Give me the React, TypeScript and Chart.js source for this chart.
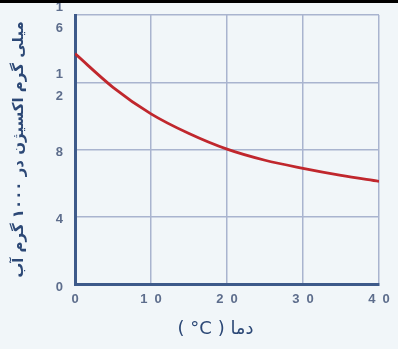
import React, { useEffect, useRef } from "react";
import { Chart, registerables } from "chart.js";

Chart.register(...registerables);

const temperatures = [0, 5, 10, 15, 20, 25, 30, 35, 40];
const oxygen = [13.7, 11.7, 10.12, 8.95, 8.02, 7.36, 6.88, 6.46, 6.1];
const yTickLabels: (string | string[])[] = ["0", "4", "8", ["1", "2"], ["1", "6"]];
const xTickLabels = ["0", "1  0", "2  0", "3  0", "4  0"];
const xTitle = "( °C ) دما    ";
const yTitle = "میلی گرم اکسیژن در ۱۰۰۰ گرم آب";

export default function App() {
  const ref = useRef<HTMLCanvasElement | null>(null);
  useEffect(() => {
    document.body.style.margin = "0";
    const canvas = ref.current;
    if (!canvas) return;
    const gridColor = "#a9b4cf";
    const axisColor = "#3d5a8a";
    const tickColor = "#5d6d8c";
    const titleColor = "#2c4876";
    const chart = new Chart(canvas, {
      type: "line",
      data: {
        datasets: [
          {
            data: temperatures.map((t, i) => ({ x: t, y: oxygen[i] })),
            borderColor: "#c0272d",
            borderWidth: 2.8,
            pointRadius: 0,
            fill: false,
            cubicInterpolationMode: "monotone",
          },
        ],
      },
      options: {
        animation: false,
        responsive: false,
        maintainAspectRatio: false,
        layout: { padding: { top: 15, right: 19, left: 0, bottom: 0 } },
        plugins: { legend: { display: false }, tooltip: { enabled: false } },
        scales: {
          x: {
            type: "linear",
            min: 0,
            max: 40,
            afterFit: (s: any) => {
              s.height = 65;
              s.paddingLeft = 0;
              s.paddingRight = 0;
            },
            grid: { color: gridColor, lineWidth: 1.5, drawTicks: false },
            border: { color: axisColor, width: 3 },
            ticks: {
              stepSize: 10,
              padding: 8,
              maxRotation: 0,
              color: tickColor,
              font: { family: "Liberation Sans", size: 13, weight: "bold" },
              callback: (_v: any, i: number) => xTickLabels[i],
            },
            title: {
              display: true,
              text: xTitle,
              color: titleColor,
              padding: { top: 0, bottom: 9 },
              font: { family: "DejaVu Sans", size: 18, weight: "normal" },
            },
          },
          y: {
            type: "linear",
            min: 0,
            max: 16,
            afterFit: (s: any) => {
              s.width = 75;
              s.paddingTop = 0;
              s.paddingBottom = 0;
            },
            grid: { color: gridColor, lineWidth: 1.5, drawTicks: false },
            border: { color: axisColor, width: 3 },
            ticks: {
              stepSize: 4,
              padding: 12,
              labelOffset: 3,
              color: tickColor,
              font: { family: "Liberation Sans", size: 13, weight: "bold", lineHeight: 1.65 },
              callback: (_v: any, i: number) => yTickLabels[i],
            },
            title: {
              display: true,
              text: yTitle,
              color: titleColor,
              padding: { top: 10, bottom: 0 },
              font: { family: "DejaVu Sans", size: 15, weight: "bold" },
            },
          },
        },
      },
    } as any);
    return () => chart.destroy();
  }, []);
  return (
    <div style={{ position: "relative", width: 398, height: 349, background: "#f1f6f9" }}>
      <canvas ref={ref} width={398} height={349} style={{ display: "block" }} />
      <div style={{ position: "absolute", left: 0, top: 0, width: 398, height: 3, background: "#000" }} />
    </div>
  );
}
